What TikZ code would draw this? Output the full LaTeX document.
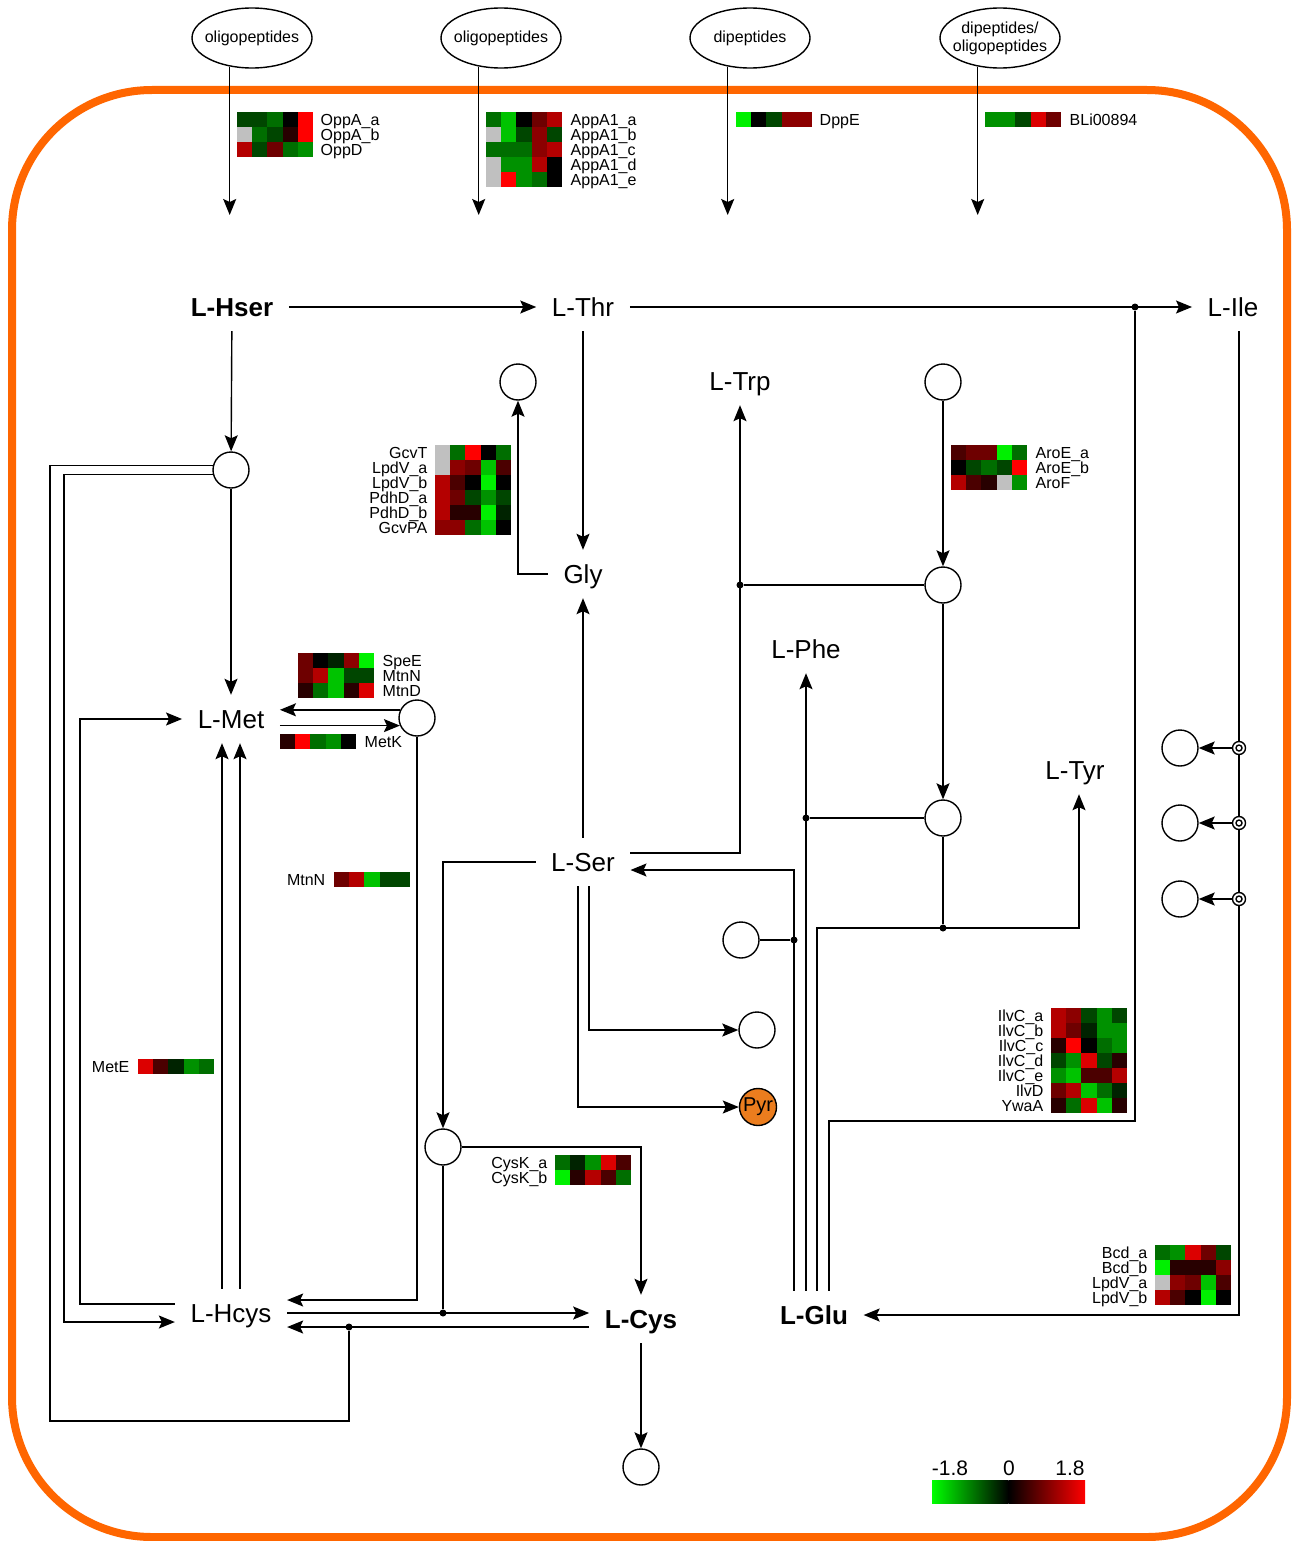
\documentclass[tikz,border=0pt]{standalone}
\usepackage{fontspec}
\setmainfont{Liberation Sans}
\usetikzlibrary{positioning,arrows.meta,shapes.geometric,calc}

\definecolor{frameor}{RGB}{255,102,0}
\definecolor{pyror}{RGB}{235,125,30}
\definecolor{g5}{RGB}{0,240,0}
\definecolor{g4}{RGB}{0,195,0}
\definecolor{g3}{RGB}{0,145,0}
\definecolor{g2}{RGB}{0,110,0}
\definecolor{g1}{RGB}{0,70,0}
\definecolor{g0}{RGB}{0,35,0}
\definecolor{bk}{RGB}{0,0,0}
\definecolor{r0}{RGB}{40,0,0}
\definecolor{r1}{RGB}{75,0,0}
\definecolor{r2}{RGB}{110,0,0}
\definecolor{r3}{RGB}{140,0,0}
\definecolor{r4}{RGB}{180,0,0}
\definecolor{r5}{RGB}{220,0,0}
\definecolor{r6}{RGB}{255,0,0}
\definecolor{na}{RGB}{192,192,192}

% heatmap: x, y (top left), label anchor, label x, gene names, rows of cells
\newcommand{\heatmap}[6]{%
  \foreach \row [count=\j from 0] in {#6}
    \foreach \c [count=\i from 0] in \row
      \fill[fill=\c] ({#1+15.2*\i},{#2+15*\j}) rectangle ++(15.2,15);
  \foreach \g [count=\j from 0] in {#5}
    \node[gene,anchor=#3] at ({#4},{#2+7.5+15*\j}) {\g};
}

\begin{document}
\begin{tikzpicture}[x=0.5pt,y=-0.5pt,line width=0.7pt,
    metab/.style={font=\fontsize{13}{15}\selectfont,inner xsep=7.5pt,inner ysep=7pt,text height=9.5pt,text depth=0pt},
    bmetab/.style={metab,font=\fontsize{13}{15}\selectfont\bfseries},
    rxn/.style={circle,draw,minimum size=18pt,inner sep=0},
    dot/.style={circle,fill,minimum size=3.5pt,inner sep=0},
    ring/.style={circle,draw,fill=white,minimum size=6.5pt,inner sep=0,
      path picture={\draw (path picture bounding box.center) circle (1.5pt);}},
    pep/.style={ellipse,draw,minimum width=60pt,minimum height=30pt,inner xsep=-2.5pt,inner ysep=0pt,align=center,font=\fontsize{8}{9}\selectfont},
    gene/.style={font=\fontsize{8}{9}\selectfont,inner sep=0,text height=5.7pt,text depth=0pt},
    arr/.style={-{Stealth[length=8pt,width=6.5pt,inset=1.5pt]}},
    lab/.style={font=\fontsize{10.5}{12}\selectfont}
  ]
  \useasboundingbox (0,0) rectangle (1297,1541);
  \draw[frameor,line width=4pt,rounded corners=70pt] (12,90) rectangle (1287,1537);

  % uptake
  \node[pep] (p1) at (252,38) {oligopeptides};
  \node[pep] (p2) at (501,38) {oligopeptides};
  \node[pep] (p3) at (750,38) {dipeptides};
  \node[pep] (p4) at (1000,38) {dipeptides/\\oligopeptides};
  \coordinate (top) at (0,215);
  \foreach \p in {p1,p2,p3,p4}
    \draw[arr] (\p.232) -- (\p.232 |- top);

  % metabolites
  \node[bmetab] (hser) at (232,307) {L-Hser};
  \node[metab] (thr) at (583,307) {L-Thr};
  \node[metab] (ile) at (1233,307) {L-Ile};
  \node[metab] (trp) at (740,381) {L-Trp};
  \node[metab] (gly) at (583,574) {Gly};
  \node[metab] (phe) at (806,649) {L-Phe};
  \node[metab] (met) at (231,719) {L-Met};
  \node[metab] (tyr) at (1075,770) {L-Tyr};
  \node[metab] (ser) at (583,862) {L-Ser};
  \node[metab] (hcys) at (231,1313) {L-Hcys};
  \node[bmetab] (cys) at (641,1319) {L-Cys};
  \node[bmetab] (glu) at (814,1315) {L-Glu};

  % reactions
  \node[rxn] (cgly) at (518,382) {};
  \node[rxn] (chser) at (231,470) {};
  \node[rxn] (caro) at (943,382) {};
  \node[rxn] (cchor) at (943,585) {};
  \node[rxn] (csam) at (417,718) {};
  \node[rxn] (cpre) at (943,818) {};
  \node[rxn] (cser1) at (741,940) {};
  \node[rxn] (cser2) at (757,1030) {};
  \node[rxn,fill=pyror,minimum size=18.5pt,font=\fontsize{10}{12}\selectfont] (pyr) at (758,1107) {Pyr};
  \node[rxn] (ccys) at (443,1147) {};
  \node[rxn] (cout) at (641,1467) {};
  \node[rxn] (cile1) at (1180,748) {};
  \node[rxn] (cile2) at (1180,823) {};
  \node[rxn] (cile3) at (1180,899) {};

  % junctions
  \node[dot] (d1) at (1135,307) {};
  \node[dot] (dt) at (740,585) {};
  \node[dot] (dp) at (806,818) {};
  \node[dot] (dy) at (943,928) {};
  \node[dot] (dg1) at (794,940) {};
  \node[dot] (dc) at (443,1313) {};
  \node[dot] (dh) at (349,1327) {};
  \coordinate (b1) at (50,1421);
  \coordinate (b2) at (64,1322);
  \coordinate (b3) at (80,719);
  \coordinate (b6) at (1135,1121);
  \coordinate (hc2) at ([yshift=-7pt]hcys.east);
  \coordinate (ty) at ([xshift=2pt]tyr.south);

  % threonine / glycine
  \draw[arr] (hser) -- (thr);
  \draw[arr] (thr) -- (ile);
  \draw[arr] (thr) -- (gly);
  \draw[arr] (ser) -- (gly);
  \draw[arr] (gly) -| (cgly);

  % methionine cycle
  \draw[arr] (hser) -- (chser);
  \draw[arr] (chser) -- (met);
  \draw (dh) |- (b1) |- (chser.167);
  \draw[arr] (chser.193) -| (b2) -- ([yshift=-4.5pt]hcys.west);
  \draw[arr] ([yshift=4.5pt]hcys.west) -| (b3) -- (met.west);
  \draw[arr] ([xshift=-4.5pt]hcys.north) -- ([xshift=-4.5pt]met.south);
  \draw[arr] ([xshift=4.5pt]hcys.north) -- ([xshift=4.5pt]met.south);
  \draw[arr] (csam.154) -- (csam.154 -| met.east);
  \draw[arr] (csam.204 -| met.east) -- (csam.204);
  \draw[arr] (csam) |- ([yshift=6.5pt]hcys.east);

  % cysteine
  \draw[arr] (hcys.east) -- (hcys.east -| cys.west);
  \draw[arr] (hc2 -| cys.west) -- (hc2);
  \draw (ccys) -- (dc);
  \draw[arr] (ser) -| (ccys);
  \draw[arr] (ccys) -| (cys);
  \draw[arr] (cys) -- (cout);
  \draw[arr] ([xshift=3pt]ser.south) |- (cser2);
  \draw[arr] ([xshift=-2.5pt]ser.south) |- (pyr);

  % aromatics
  \draw[arr] (caro) -- (cchor);
  \draw[arr] (cchor) -- (cpre);
  \draw[arr] ([yshift=4.5pt]ser.east) -| (trp);
  \draw (cchor) -- (dt);
  \draw (cpre) -- (dp);
  \draw (cpre) -- (dy);

  % glutamate
  \draw[arr] ([xshift=-10pt]glu.north) |- ([yshift=-4pt]ser.east);
  \draw (cser1) -- (dg1);
  \draw[arr] ([xshift=-4pt]glu.north) -- (phe);
  \draw[arr] ([xshift=1.5pt]glu.north) |- (ty |- dy) -- (ty);
  \draw ([xshift=7.5pt]glu.north) |- (b6) -- (d1);

  % isoleucine
  \draw[arr] ([xshift=3pt]ile.south) |- (glu);
  \node[ring] (r1) at (1239,748) {};
  \node[ring] (r2) at (1239,823) {};
  \node[ring] (r3) at (1239,899) {};
  \foreach \k in {1,2,3}
    \draw[arr] (r\k) -- (cile\k);

  % expression
  \heatmap{237}{112}{west}{320}{OppA\_a,OppA\_b,OppD}
    {{g1,g1,g2,bk,r6},{na,g2,g1,r0,r6},{r4,g1,r2,g2,g3}}
  \heatmap{486}{112}{west}{570}{AppA1\_a,AppA1\_b,AppA1\_c,AppA1\_d,AppA1\_e}
    {{g2,g4,bk,r2,r4},{na,g4,g1,r3,g1},{g2,g2,g2,r3,r4},{na,g3,g3,r4,bk},{na,r6,g3,g2,bk}}
  \heatmap{736}{112}{west}{819}{DppE}{{g5,bk,g1,r3,r3}}
  \heatmap{985}{112}{west}{1069}{BLi00894}{{g3,g3,g1,r5,r2}}
  \heatmap{435}{445}{east}{428}{GcvT,LpdV\_a,LpdV\_b,PdhD\_a,PdhD\_b,GcvPA}
    {{na,g2,r6,bk,g2},{na,r3,r2,g4,r1},{r4,r1,bk,g5,bk},{r4,r2,g1,g3,g1},{r4,r0,r0,g5,g0},{r3,r3,g2,g4,bk}}
  \heatmap{951}{445}{west}{1035}{AroE\_a,AroE\_b,AroF}
    {{r1,r2,r2,g5,g2},{bk,g1,g2,g1,r6},{r4,r1,r0,na,g3}}
  \heatmap{298}{653}{west}{382}{SpeE,MtnN,MtnD}
    {{r2,bk,g0,r3,g5},{r2,r4,g4,g1,g1},{r0,g2,g4,r0,r5}}
  \heatmap{280}{734}{west}{364}{MetK}{{r0,r6,g2,g3,bk}}
  \heatmap{334}{872}{east}{326}{MtnN}{{r2,r4,g4,g1,g1}}
  \heatmap{138}{1059}{east}{130}{MetE}{{r5,r1,g0,g3,g2}}
  \heatmap{1051}{1008}{east}{1044}{IlvC\_a,IlvC\_b,IlvC\_c,IlvC\_d,IlvC\_e,IlvD,YwaA}
    {{r4,r3,g1,g3,g1},{r4,r2,g0,g3,g3},{r0,r6,bk,g2,g3},{g1,g3,r5,g1,r0},{g3,g4,r1,r1,r4},{r2,r4,g4,g2,g0},{r0,g2,r5,g4,r0}}
  \heatmap{555}{1155}{east}{548}{CysK\_a,CysK\_b}
    {{g2,g0,g3,r5,r1},{g5,r0,r4,r1,g2}}
  \heatmap{1155}{1245}{east}{1148}{Bcd\_a,Bcd\_b,LpdV\_a,LpdV\_b}
    {{g2,g3,r5,r2,g1},{g5,r0,r0,r0,r3},{na,r3,r2,g4,r1},{r4,r1,bk,g5,bk}}

  % legend
  \shade[left color={rgb,255:red,0;green,255;blue,0},right color=black] (932,1480) rectangle (1008.5,1503);
  \shade[left color=black,right color={rgb,255:red,255;green,0;blue,0}] (1008.5,1480) rectangle (1085,1503);
  \node[lab] (lmin) at (950,1468) {-1.8};
  \node[lab] (lzero) at (1009,1468) {0};
  \node[lab] (lmax) at (1070,1468) {1.8};
\end{tikzpicture}
\end{document}
